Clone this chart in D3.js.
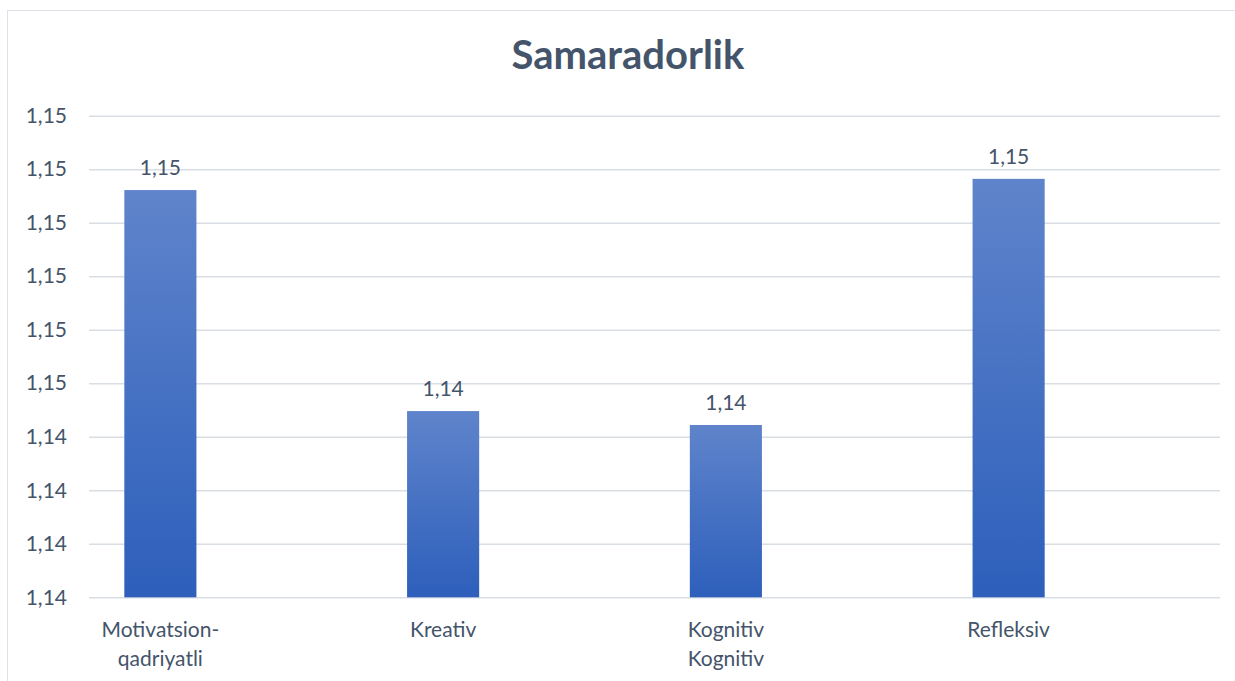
<!DOCTYPE html>
<html>
<head>
<meta charset="utf-8">
<script src="https://cdn.jsdelivr.net/npm/d3@7"></script>
<style>
  body { margin: 0; background: #fff; }
  svg text { font-family: Lato, "Open Sans", sans-serif; fill: #44546a; }
</style>
</head>
<body>
<div id="chart"></div>
<script>
// data
const categories = [['Motivatsion-', 'qadriyatli'], ['Kreativ'], ['Kognitiv', 'Kognitiv'], ['Refleksiv']];
const values = [1.14861, 1.14448, 1.14422, 1.14882];
const valueLabels = ['1,15', '1,14', '1,14', '1,15'];
const tickValues = [1.141, 1.142, 1.143, 1.144, 1.145, 1.146, 1.147, 1.148, 1.149, 1.150];
const tickLabels = ['1,14', '1,14', '1,14', '1,14', '1,15', '1,15', '1,15', '1,15', '1,15', '1,15'];
const title = 'Samaradorlik';

class BarChart {
  constructor(aims) {
    this.container = d3.select(aims);
    this.width = 1235;
    this.height = 681;
    this.gridLeft = 89;
    this.gridRight = 1220;
    this.top = 115.7;
    this.bottom = 597.3;
    this.fontSize = 21;
  }

  render() {
    this.createSvg();
    this.initScales();
    this.drawFrame();
    this.drawAxes();
    this.drawBars();
  }

  createSvg() {
    this.chart = this.container.append('svg')
      .attr('width', this.width)
      .attr('height', this.height);

    let grad = this.chart.append('defs').append('linearGradient')
      .attr('id', 'barGrad')
      .attr('x1', 0).attr('y1', 0).attr('x2', 0).attr('y2', 1);
    grad.append('stop').attr('offset', '0%').attr('stop-color', '#5f84cb');
    grad.append('stop').attr('offset', '100%').attr('stop-color', '#2d5fbb');
  }

  initScales() {
    this.yScale = d3.scaleLinear().domain([1.141, 1.150]).range([this.bottom, this.top]);
    // bars sit a bit left of the grid, like in the original
    this.xScale = d3.scaleBand().domain(d3.range(categories.length))
      .range([19, 1150]).paddingInner(0.745).paddingOuter(0.3725);
  }

  drawFrame() {
    this.chart.append('rect')
      .attr('x', 7.5).attr('y', 10.5)
      .attr('width', 1240).attr('height', 700)
      .attr('fill', 'none')
      .attr('stroke', '#dee2e9')
      .attr('stroke-width', 1);

    this.chart.append('text')
      .attr('x', 628)
      .attr('y', 69)
      .attr('text-anchor', 'middle')
      .attr('font-size', 40)
      .attr('font-weight', 'bold')
      .text(title);
  }

  drawAxes() {
    let yAxis = d3.axisLeft(this.yScale)
      .tickValues(tickValues)
      .tickFormat((d, i) => tickLabels[i])
      .tickSize(-(this.gridRight - this.gridLeft))
      .tickPadding(22);

    let g = this.chart.append('g')
      .attr('transform', 'translate(' + this.gridLeft + ',0)')
      .call(yAxis);
    g.select('.domain').remove();
    g.selectAll('.tick line').attr('stroke', '#d9dde4').attr('stroke-width', 1.5);
    g.selectAll('.tick text').attr('font-size', this.fontSize).attr('fill', '#44546a');

    let xg = this.chart.append('g');
    categories.forEach((lines, i) => {
      let t = xg.append('text')
        .attr('text-anchor', 'middle')
        .attr('font-size', this.fontSize);
      lines.forEach((ln, j) => {
        t.append('tspan')
          .attr('x', this.xScale(i) + this.xScale.bandwidth() / 2)
          .attr('y', 637 + j * 29)
          .text(ln);
      });
    });
  }

  drawBars() {
    let bars = this.chart.append('g');
    bars.selectAll('rect')
      .data(values)
      .enter()
      .append('rect')
      .attr('x', (d, i) => this.xScale(i))
      .attr('y', d => this.yScale(d))
      .attr('width', this.xScale.bandwidth())
      .attr('height', d => this.yScale(1.141) - this.yScale(d))
      .attr('fill', 'url(#barGrad)');

    bars.selectAll('text')
      .data(values)
      .enter()
      .append('text')
      .attr('x', (d, i) => this.xScale(i) + this.xScale.bandwidth() / 2)
      .attr('y', d => this.yScale(d) - 15)
      .attr('text-anchor', 'middle')
      .attr('font-size', this.fontSize)
      .text((d, i) => valueLabels[i]);
  }
}

new BarChart('#chart').render();
</script>
</body>
</html>
